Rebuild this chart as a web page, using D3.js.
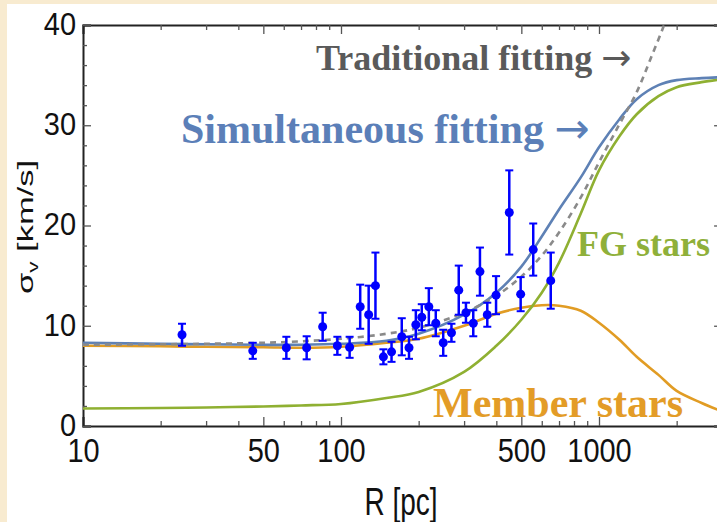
<!DOCTYPE html>
<html>
<head>
<meta charset="utf-8">
<script src="https://cdn.jsdelivr.net/npm/d3@7"></script>
<style>
  html, body { margin: 0; padding: 0; background: #f8ebd0; }
  svg { display: block; }
</style>
</head>
<body>
<svg id="chart" width="717" height="522"></svg>
<script>
// ---------------- data ----------------
// observed points: radius R [pc], velocity dispersion [km/s], error
const obsR     = [24.2, 45.5, 61.4, 73.6, 84.9, 96.8, 108, 118.7, 128, 136, 146, 157, 172, 183.5, 195, 205.6, 219, 233, 249, 268, 286, 305, 325.6, 345.6, 369, 399, 449, 497, 556, 650];
const obsSigma = [9.1, 7.5, 7.8, 7.8, 9.9, 8.0, 7.85, 11.9, 11.1, 14.0, 6.9, 7.4, 8.9, 7.8, 10.1, 10.85, 11.9, 10.25, 8.3, 9.3, 13.55, 11.3, 10.25, 15.4, 11.1, 13.05, 21.3, 13.15, 17.6, 14.5];
const obsErr   = [1.1, 0.8, 1.1, 1.15, 1.4, 0.9, 1.05, 2.2, 2.9, 3.3, 0.75, 1.0, 1.85, 1.1, 1.45, 1.3, 1.85, 1.3, 1.3, 0.9, 2.45, 1.0, 1.3, 2.4, 1.2, 1.9, 4.2, 1.7, 2.6, 2.8];

// model curves
const curveR       = [10, 20, 30, 50, 70, 100, 150, 200, 300, 400, 500, 600, 700, 850, 1000, 1200, 1400, 1700, 2000, 2500, 3000];
const simultaneous = [8.3, 8.2, 8.15, 8.1, 8.1, 8.2, 8.5, 9.2, 11.1, 13.3, 15.9, 18.9, 21.6, 24.8, 27.8, 30.6, 32.6, 34.0, 34.5, 34.7, 34.8];
const fgStars      = [1.75, 1.8, 1.85, 1.95, 2.05, 2.2, 2.8, 3.4, 5.4, 8.0, 10.6, 13.3, 16.3, 21.2, 25.5, 28.9, 31.1, 32.9, 33.8, 34.3, 34.6];
const memberStars  = [8.0, 7.95, 7.9, 7.85, 7.8, 7.9, 8.3, 8.7, 10.0, 11.2, 11.8, 12.05, 12.0, 11.5, 10.3, 8.6, 6.9, 5.1, 3.5, 2.3, 1.45];
const tradR        = [10, 20, 30, 50, 70, 100, 150, 200, 300, 400, 500, 600, 700, 850, 1000, 1200, 1400, 1600, 1800, 1900];
const traditional  = [8.1, 8.15, 8.2, 8.3, 8.45, 8.7, 9.2, 9.8, 11.3, 13.0, 14.9, 17.0, 19.3, 22.8, 26.3, 30.1, 33.3, 36.9, 40.2, 42.0];

// axis ticks
const xLabelTicks = [10, 50, 100, 500, 1000];
const xMinorTicks = [20, 30, 40, 60, 70, 80, 90, 200, 300, 400, 600, 700, 800, 900, 2000, 3000];
const yMajorTicks = [0, 10, 20, 30, 40];
const yMinorTicks = [2, 4, 6, 8, 12, 14, 16, 18, 22, 24, 26, 28, 32, 34, 36, 38];

// ---------------- drawing ----------------
(function () {
const svg = d3.select("#chart");
const W = 717, H = 522;
const mLeft = 83, mTop = 25, mBottom = 426, decade = 258;
const mRight = mLeft + Math.log10(300) * decade;

const x = d3.scaleLog().domain([10, 3000]).range([mLeft, mRight]);
const y = d3.scaleLinear().domain([0, 40]).range([mBottom, mTop]);

// backgrounds
svg.append("rect").attr("width", W).attr("height", H).attr("fill", "#f8ebd0");
svg.append("rect").attr("x", 7).attr("y", 4).attr("width", W - 7).attr("height", H - 4).attr("fill", "#ffffff");

svg.append("defs").append("clipPath").attr("id", "plotclip")
  .append("rect").attr("x", mLeft).attr("y", mTop).attr("width", mRight - mLeft).attr("height", mBottom - mTop);

const tickColor = "#555";
function styleAxis(g) {
  g.select(".domain").attr("stroke", "#222").attr("stroke-width", 2);
  g.selectAll(".tick line").attr("stroke", tickColor).attr("stroke-width", 1.3);
}

// bottom axis
const gB = svg.append("g").attr("transform", `translate(0,${mBottom})`)
  .call(d3.axisBottom(x).tickValues(xLabelTicks).tickSize(-9).tickFormat(d3.format("d")));
styleAxis(gB);
gB.selectAll(".tick text")
  .attr("y", null).attr("dy", null)
  .attr("transform", "translate(0,36) scale(1,1.12)")
  .attr("font-family", "Liberation Sans, Arial, sans-serif")
  .attr("font-size", 29).attr("fill", "#111");
const gBm = svg.append("g").attr("transform", `translate(0,${mBottom})`)
  .call(d3.axisBottom(x).tickValues(xMinorTicks).tickSize(-5).tickFormat(""));
styleAxis(gBm);
gBm.select(".domain").remove();

// top axis
const gT = svg.append("g").attr("transform", `translate(0,${mTop})`)
  .call(d3.axisTop(x).tickValues(xLabelTicks).tickSize(-9).tickFormat(""));
styleAxis(gT);
const gTm = svg.append("g").attr("transform", `translate(0,${mTop})`)
  .call(d3.axisTop(x).tickValues(xMinorTicks).tickSize(-5).tickFormat(""));
styleAxis(gTm);
gTm.select(".domain").remove();

// left axis
const gL = svg.append("g").attr("transform", `translate(${mLeft},0)`)
  .call(d3.axisLeft(y).tickValues(yMajorTicks).tickSize(-8).tickFormat(d3.format("d")));
styleAxis(gL);
gL.selectAll(".tick text")
  .attr("x", null).attr("dy", "0.3em")
  .attr("transform", "translate(-7,0) scale(1,1.08)")
  .attr("font-family", "Liberation Sans, Arial, sans-serif")
  .attr("font-size", 29).attr("fill", "#111");
const gLm = svg.append("g").attr("transform", `translate(${mLeft},0)`)
  .call(d3.axisLeft(y).tickValues(yMinorTicks).tickSize(-4).tickFormat(""));
styleAxis(gLm);
gLm.select(".domain").remove();

// right axis
const gR = svg.append("g").attr("transform", `translate(${mRight},0)`)
  .call(d3.axisRight(y).tickValues(yMajorTicks).tickSize(-8).tickFormat(""));
styleAxis(gR);
const gRm = svg.append("g").attr("transform", `translate(${mRight},0)`)
  .call(d3.axisRight(y).tickValues(yMinorTicks).tickSize(-4).tickFormat(""));
styleAxis(gRm);
gRm.select(".domain").remove();

// curves
const plot = svg.append("g").attr("clip-path", "url(#plotclip)");
const line = d3.line().x(d => x(d[0])).y(d => y(d[1])).curve(d3.curveCatmullRom.alpha(0.5));

plot.append("path").datum(d3.zip(curveR, memberStars)).attr("d", line)
  .attr("fill", "none").attr("stroke", "#E19C24").attr("stroke-width", 2.6);
plot.append("path").datum(d3.zip(curveR, fgStars)).attr("d", line)
  .attr("fill", "none").attr("stroke", "#8FB032").attr("stroke-width", 2.6);
plot.append("path").datum(d3.zip(curveR, simultaneous)).attr("d", line)
  .attr("fill", "none").attr("stroke", "#5E81B5").attr("stroke-width", 2.6);
plot.append("path").datum(d3.zip(tradR, traditional)).attr("d", line)
  .attr("fill", "none").attr("stroke", "#8a8a8a").attr("stroke-width", 2.6)
  .attr("stroke-dasharray", "6,5");

// data points with error bars
const pts = d3.range(obsR.length).map(i => ({ r: obsR[i], s: obsSigma[i], e: obsErr[i] }));
const pg = plot.append("g").selectAll("g").data(pts).join("g");
pg.append("line")
  .attr("x1", d => x(d.r)).attr("x2", d => x(d.r))
  .attr("y1", d => y(d.s - d.e)).attr("y2", d => y(d.s + d.e))
  .attr("stroke", "#0000ff").attr("stroke-width", 2.5);
pg.append("line")
  .attr("x1", d => x(d.r) - 4).attr("x2", d => x(d.r) + 4)
  .attr("y1", d => y(d.s + d.e)).attr("y2", d => y(d.s + d.e))
  .attr("stroke", "#0000ff").attr("stroke-width", 2);
pg.append("line")
  .attr("x1", d => x(d.r) - 4).attr("x2", d => x(d.r) + 4)
  .attr("y1", d => y(d.s - d.e)).attr("y2", d => y(d.s - d.e))
  .attr("stroke", "#0000ff").attr("stroke-width", 2);
pg.append("circle")
  .attr("cx", d => x(d.r)).attr("cy", d => y(d.s)).attr("r", 4.5)
  .attr("fill", "#0000ff");

// axis titles
const sans = "Liberation Sans, Arial, sans-serif";
svg.append("text")
  .attr("transform", "translate(401,515) scale(1,1.37)")
  .attr("text-anchor", "middle").attr("font-family", sans).attr("font-size", 28).attr("fill", "#111")
  .text("R [pc]");
const yt = svg.append("text")
  .attr("transform", "translate(33,227) rotate(-90) scale(1.5,1)")
  .attr("text-anchor", "middle").attr("font-family", sans).attr("font-size", 23).attr("fill", "#111");
yt.append("tspan").text("σ");
yt.append("tspan").attr("font-size", 15).attr("dy", 5).text("v");
yt.append("tspan").attr("dy", -5).text(" [km/s]");

// annotations
const serif = "Liberation Serif, Times New Roman, serif";
function note(tx, ty, size, color, label, arrow) {
  const t = svg.append("text").attr("x", tx).attr("y", ty)
    .attr("font-family", serif).attr("font-weight", "bold").attr("font-size", size).attr("fill", color);
  t.append("tspan").text(label + (arrow ? " " : ""));
  if (arrow) t.append("tspan").attr("font-family", "DejaVu Sans, sans-serif")
    .attr("font-weight", "normal").attr("font-size", size * 1.0).text("→");
}
note(316, 70, 36, "#5a5a5a", "Traditional fitting", true);
note(181, 143, 42, "#5b7fb8", "Simultaneous fitting", true);
note(577, 256, 36, "#8fb03a", "FG stars", false);
note(433, 417, 42, "#e39c27", "Member stars", false);
})();
</script>
</body>
</html>
